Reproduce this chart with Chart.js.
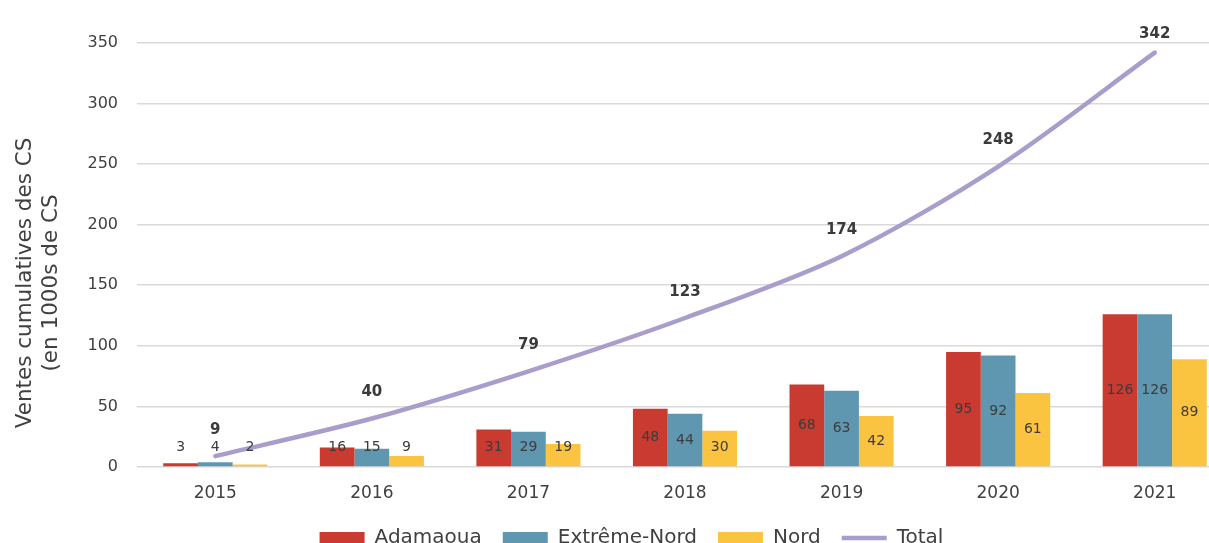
<!DOCTYPE html>
<html>
<head>
<meta charset="utf-8">
<script src="https://cdn.jsdelivr.net/npm/chart.js@4/dist/chart.umd.min.js"></script>
<style>
  html, body { margin: 0; padding: 0; background: #ffffff; overflow: hidden; }
  #wrap { position: relative; width: 1233px; height: 558px; }
</style>
</head>
<body>
<div id="wrap"><canvas id="c"></canvas></div>
<script>
const categories = ['2015', '2016', '2017', '2018', '2019', '2020', '2021'];
const adamaoua = [3, 16, 31, 48, 68, 95, 126];
const extremeNord = [4, 15, 29, 44, 63, 92, 126];
const nord = [2, 9, 19, 30, 42, 61, 89];
const total = [9, 40, 79, 123, 174, 248, 342];
const yTitle = ['Ventes cumulatives des CS', '(en 1000s de CS'];

const FONT = '"DejaVu Sans", "Noto Sans", sans-serif';
const TEXT = '#404040';

const labelPlugin = {
  id: 'valueLabels',
  afterDatasetsDraw(chart) {
    const ctx = chart.ctx;
    ctx.save();
    ctx.textAlign = 'center';
    ctx.textBaseline = 'middle';
    chart.data.datasets.forEach((ds, di) => {
      const meta = chart.getDatasetMeta(di);
      if (meta.hidden) return;
      meta.data.forEach((el, i) => {
        const v = ds.data[i];
        if (ds.type === 'line') {
          ctx.font = 'bold 15px ' + FONT;
          ctx.fillStyle = '#3a3a3a';
          const y = Math.max(el.y - 26, chart.chartArea.top - 9);
          ctx.fillText(String(v), el.x, y);
        } else {
          ctx.font = '14px ' + FONT;
          ctx.fillStyle = '#3c3c3c';
          const center = (el.y + el.base) / 2;
          const y = Math.min(center, el.base - 19);
          ctx.fillText(String(v), el.x, y);
        }
      });
    });
    ctx.restore();
  }
};

// Y-axis title, drawn rotated in the space left of the y scale
const yTitlePlugin = {
  id: 'yTitle',
  afterDraw(chart) {
    const ctx = chart.ctx;
    const area = chart.chartArea;
    const lineH = 26.5;
    const cy = (area.top + area.bottom) / 2 + 28;
    ctx.save();
    ctx.fillStyle = TEXT;
    ctx.font = '21.5px ' + FONT;
    ctx.textAlign = 'center';
    ctx.textBaseline = 'middle';
    yTitle.forEach((line, k) => {
      ctx.save();
      ctx.translate(area.left - 112 + k * lineH, cy);
      ctx.rotate(-Math.PI / 2);
      ctx.fillText(line, 0, 0);
      ctx.restore();
    });
    ctx.restore();
  }
};

new Chart(document.getElementById('c'), {
  data: {
    labels: categories,
    datasets: [
      { type: 'line', label: 'Total', data: total, borderColor: '#A99DCB', backgroundColor: '#A99DCB',
        borderWidth: 4.5, pointRadius: 0, pointHoverRadius: 0, tension: 0.3, order: 0,
        borderCapStyle: 'round' },
      { type: 'bar', label: 'Adamaoua', data: adamaoua, backgroundColor: '#C93A30', order: 1 },
      { type: 'bar', label: 'Extrême-Nord', data: extremeNord, backgroundColor: '#5F97B1', order: 1 },
      { type: 'bar', label: 'Nord', data: nord, backgroundColor: '#FAC441', order: 1 }
    ]
  },
  options: {
    responsive: true,
    maintainAspectRatio: false,
    animation: false,
    events: [],
    layout: { padding: { top: 43, left: 30, right: 0, bottom: 0 } },
    datasets: { bar: { categoryPercentage: 0.665, barPercentage: 1.0 } },
    scales: {
      x: {
        afterFit(scale) { scale.height = 40; },
        grid: { display: false, drawTicks: false },
        border: { display: false },
        ticks: { color: TEXT, font: { family: FONT, size: 17 }, padding: 16 }
      },
      y: {
        min: 0, max: 350,
        afterFit(scale) { scale.width = 107; },
        grid: { color: '#D9D9D9', lineWidth: 1.6, drawTicks: false },
        border: { display: false },
        ticks: { stepSize: 50, color: TEXT, font: { family: FONT, size: 16 }, padding: 19 },
        title: { display: false }
      }
    },
    plugins: {
      tooltip: { enabled: false },
      legend: {
        position: 'bottom',
        labels: {
          color: TEXT,
          font: { family: FONT, size: 20 },
          usePointStyle: true,
          pointStyleWidth: 45,
          boxHeight: 12,
          padding: 21,
          sort: (a, b) => (a.datasetIndex === 0 ? 1 : 0) - (b.datasetIndex === 0 ? 1 : 0),
          generateLabels(chart) {
            const items = Chart.defaults.plugins.legend.labels.generateLabels(chart);
            items.forEach(it => {
              const ds = chart.data.datasets[it.datasetIndex];
              if (ds.type === 'line') {
                it.pointStyle = 'line';
                it.strokeStyle = ds.borderColor;
                it.lineWidth = 4.5;
              } else {
                it.pointStyle = 'rect';
                it.lineWidth = 0;
                it.strokeStyle = ds.backgroundColor;
              }
            });
            return items;
          }
        }
      }
    }
  },
  plugins: [labelPlugin, yTitlePlugin]
});
</script>
</body>
</html>
